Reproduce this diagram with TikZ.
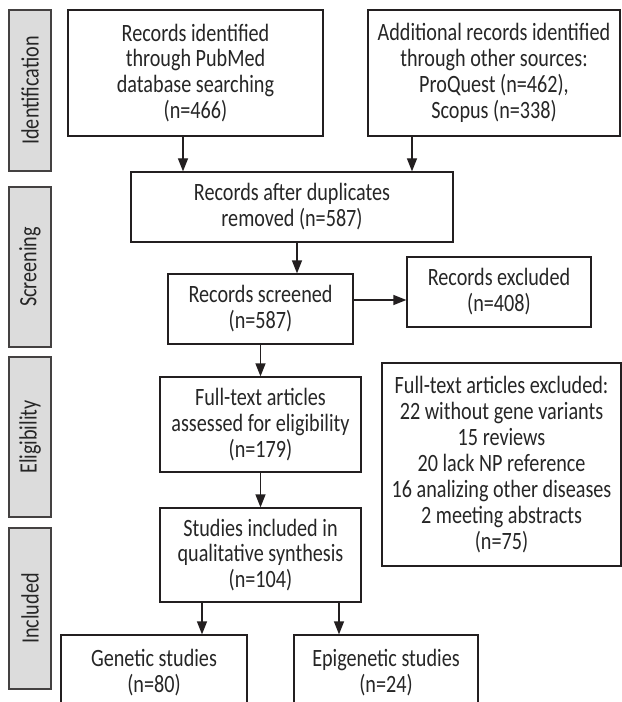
\documentclass[tikz,border=0pt]{standalone}
\usepackage{fontspec}
\setmainfont{Carlito}[FakeStretch=0.81]
\usetikzlibrary{arrows.meta,calc}
\definecolor{ln}{HTML}{231F20}
\definecolor{tx}{HTML}{262626}
\definecolor{gr}{HTML}{DCDCDC}
\begin{document}
\begin{tikzpicture}[x=1bp,y=-1bp,
  box/.style={draw=ln,line width=1.2bp,fill=white,align=center,inner sep=0pt,text=tx,font=\fontsize{25}{26}\selectfont},
  side/.style={draw=ln!85,line width=1.2bp,fill=gr,inner sep=0pt,text=tx,font=\fontsize{25}{26}\selectfont,minimum width=42bp},
  arr/.style={draw=ln,line width=1.2bp,-{Triangle[length=13bp,width=10bp]}}]
\clip (0,0) rectangle (622,702);
\fill[white] (0,0) rectangle (622,702);
% side labels
\node[side,minimum height=161bp] (idlab) at (30,90.5) {\rotatebox{90}{Identification}};
\node[side,minimum height=160bp] (scrlab) at (30,267) {\rotatebox{90}{Screening}};
\node[side,minimum height=160bp] (elilab) at (30,437) {\rotatebox{90}{Eligibility}};
\node[side,minimum height=161bp] (inclab) at (30,608.5) {\rotatebox{90}{Included}};
% boxes
\node[box,minimum width=255bp,minimum height=126bp] (pubmed) at (195.5,73) {Records identified\\through PubMed\\database searching\\(n=466)};
\node[box,minimum width=252bp,minimum height=126bp] (addl) at (494,73) {Additional records identified\\through other sources:\\ProQuest (n=462),\\Scopus (n=338)};
\node[box,minimum width=322bp,minimum height=70bp] (dup) at (292,207) {Records after duplicates\\removed (n=587)};
\node[box,minimum width=185bp,minimum height=70bp] (screened) at (260.5,309) {Records screened\\(n=587)};
\node[box,minimum width=184bp,minimum height=70bp] (excl) at (499,292) {Records excluded\\(n=408)};
\node[box,minimum width=201bp,minimum height=95bp] (fulltext) at (260.5,424.5) {Full-text articles\\assessed for eligibility\\(n=179)};
\node[box,minimum width=239bp,minimum height=203bp] (ftexcl) at (501.5,464.5) {Full-text articles excluded:\\22 without gene variants\\15 reviews\\20 lack NP reference\\16 analizing other diseases\\2 meeting abstracts\\(n=75)};
\node[box,minimum width=201bp,minimum height=94bp] (studies) at (260.5,555) {Studies included in\\qualitative synthesis\\(n=104)};
\node[box,minimum width=186bp,minimum height=75bp] (genetic) at (154,672.5) {Genetic studies\\(n=80)};
\node[box,minimum width=184bp,minimum height=75bp] (epigen) at (386,672.5) {Epigenetic studies\\(n=24)};
% connectors
\coordinate (a1) at ($(pubmed.south)+(-12.5,0)$);
\coordinate (a2) at ($(addl.south)+(-82,0)$);
\coordinate (a3) at ($(dup.south)+(5,0)$);
\coordinate (a4) at ($(screened.east)+(0,-9)$);
\coordinate (a5) at ($(studies.south)+(-58.5,0)$);
\coordinate (a6) at ($(studies.south)+(78.5,0)$);
\draw[arr] (a1) -- (a1 |- dup.north);
\draw[arr] (a2) -- (a2 |- dup.north);
\draw[arr] (a3) -- (a3 |- screened.north);
\draw[arr] (a4) -- (a4 -| excl.west);
\draw[arr] (screened.south) -- (fulltext.north);
\draw[arr] (fulltext.south) -- (studies.north);
\draw[arr] (a5) -- (a5 |- genetic.north);
\draw[arr] (a6) -- (a6 |- epigen.north);
\end{tikzpicture}
\end{document}
